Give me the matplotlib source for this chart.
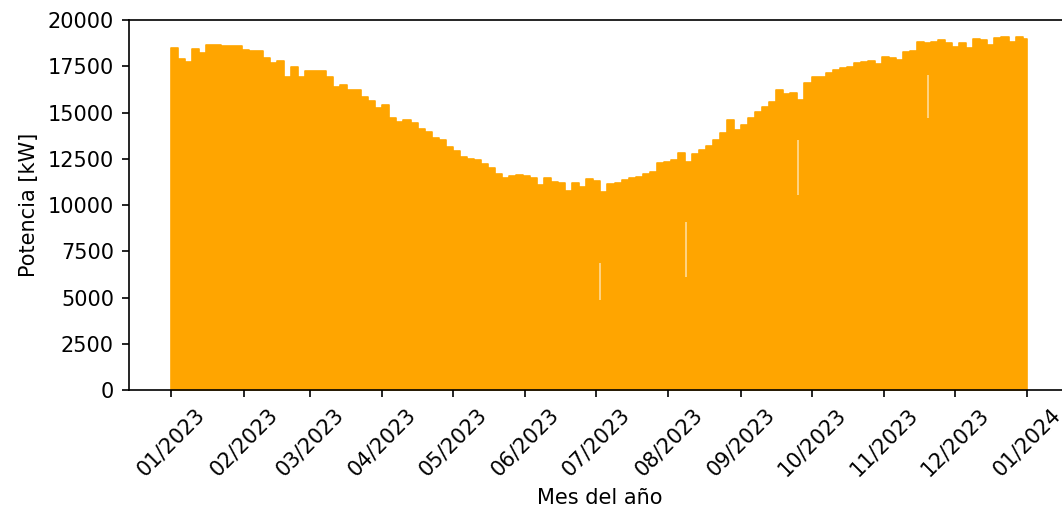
"""
Potencia diaria maxima de la planta durante 2023.
"""

import numpy as np
import pandas as pd
import matplotlib
matplotlib.use("Agg")
import matplotlib.pyplot as plt
import matplotlib.dates as mdates

# Pico de potencia cada 3 dias (dia del anio 0, 3, 6, ... 363), en kW
dias = np.arange(0, 365, 3)
pico = [18500, 17900, 17750, 18450, 18200, 18650, 18650, 18600, 18620, 18600,
        18400, 18340, 18300, 17930, 17680, 17780, 16900, 17450, 16900, 17260,
        17260, 17250, 16900, 16400, 16490, 16220, 16200, 15850, 15600, 15250,
        15400, 14700, 14500, 14600, 14430, 14100, 13950, 13650, 13500, 13150,
        12900, 12610, 12500, 12430, 12200, 12000, 11700, 11440, 11570, 11640,
        11550, 11440, 11100, 11450, 11260, 11200, 10750, 11170, 10950, 11390,
        11300, 10720, 11150, 11200, 11350, 11450, 11530, 11700, 11800, 12250,
        12350, 12450, 12790, 12340, 12750, 12950, 13200, 13500, 13870, 14590,
        14050, 14300, 14700, 15040, 15300, 15580, 16220, 16000, 16040, 15700,
        16580, 16900, 16930, 17150, 17300, 17400, 17480, 17660, 17750, 17800,
        17650, 18010, 17930, 17840, 18290, 18300, 18830, 18740, 18800, 18920,
        18740, 18560, 18740, 18470, 18970, 18920, 18650, 19010, 19100, 18830,
        19100, 19000]

# Huecos visibles entre dias consecutivos (dia, kW min, kW max)
hueco_dia = [183, 219.6, 267.4, 322.5]
hueco_min = [4850, 6110, 10540, 14700]
hueco_max = [6860, 9080, 13510, 17030]

inicio = pd.Timestamp("2023-01-01")
fechas = inicio + pd.to_timedelta(dias, unit="D")
fechas = list(fechas) + [pd.Timestamp("2024-01-01")]
valores = list(pico) + [pico[-1]]

fig = plt.figure(figsize=(1062 / 150, 514 / 150), dpi=150)
ax = fig.add_axes([0.121, 0.2412, 0.8866, 0.7198])

ax.fill_between(fechas, 0, valores, step="post", color="orange", lw=0.8, edgecolor="orange")
hx = [inicio + pd.Timedelta(days=d) for d in hueco_dia]
ax.vlines(hx, hueco_min, hueco_max, color="white", lw=0.8, alpha=0.6)

ax.set_ylim(0, 20000)
ax.xaxis.set_major_locator(mdates.MonthLocator())
ax.xaxis.set_major_formatter(mdates.DateFormatter("%m/%Y"))
plt.xticks(rotation=45)
ax.set_xlabel("Mes del año")
ax.set_ylabel("Potencia [kW]")

fig.savefig("out.png", dpi=150)
